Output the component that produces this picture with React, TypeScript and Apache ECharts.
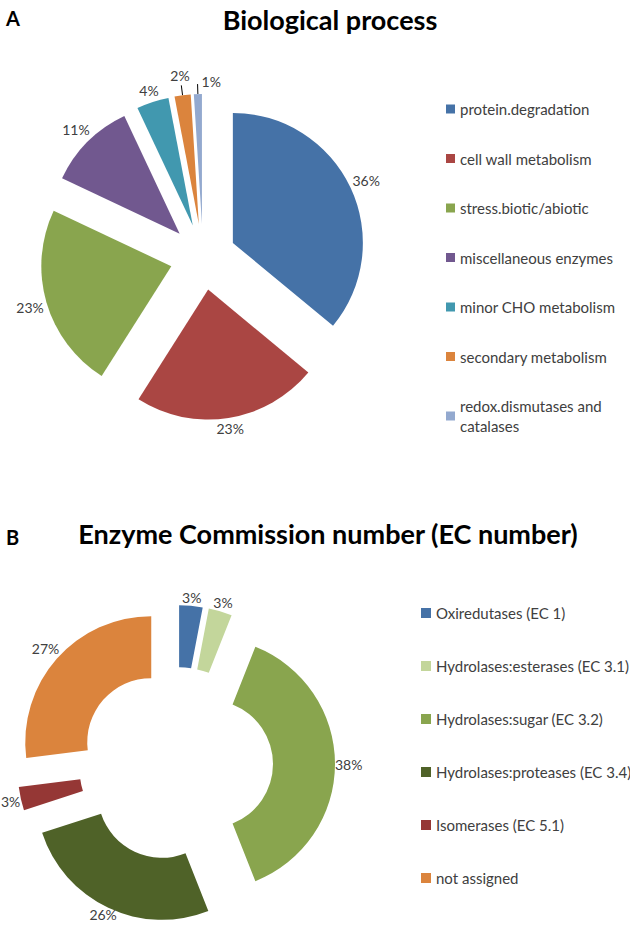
import React, { useEffect, useRef } from "react";
import * as echarts from "echarts";

// ---- Panel A: Biological process ----
const processCategories = [
  "protein.degradation",
  "cell wall metabolism",
  "stress.biotic/abiotic",
  "miscellaneous enzymes",
  "minor CHO metabolism",
  "secondary metabolism",
  "redox.dismutases and catalases",
];
const processValues = [36, 23, 23, 11, 4, 2, 1];
const processColors = ["#4572A7", "#AA4643", "#89A54E", "#71588F", "#4198AF", "#DB843D", "#93A9CF"];

// ---- Panel B: Enzyme Commission number ----
const ecCategories = [
  "Oxiredutases (EC 1)",
  "Hydrolases:esterases (EC 3.1)",
  "Hydrolases:sugar (EC 3.2)",
  "Hydrolases:proteases (EC 3.4)",
  "Isomerases (EC 5.1)",
  "not assigned",
];
const ecValues = [3, 3, 38, 26, 3, 27];
const ecColors = ["#4572A7", "#C3D69B", "#89A54E", "#4F6228", "#953735", "#DB843D"];

const FONT = "Lato, 'Open Sans', sans-serif";
const LABEL_COLOR = "#404040";
const LABEL_DIST = 2;
const SHORT_LEN = 4;
const LINE_LEN = 10;
const CHART_W = 630;
const CHART_H = 925;
const EDGE = 4;
const OFFSET_A = 33;
const OFFSET_B = 33;

// mid angle of each slice, clockwise from 12 o'clock, in radians
function midAngles(values: number[]) {
  const total = values.reduce((a, b) => a + b, 0);
  let acc = 0;
  return values.map((v) => {
    const m = ((acc + v / 2) / total) * Math.PI * 2;
    acc += v;
    return m;
  });
}

// moves the default outside label so that its centre sits outward along the slice bisector
function makeLabelLayout(values: number[], hasLine: (v: number) => boolean, gap: number, offset: number) {
  const mids = midAngles(values);
  return (params: any) => {
    const i = params.dataIndex;
    const a = mids[i];
    const ux = Math.sin(a);
    const uy = -Math.cos(a);
    const r = params.labelRect;
    const w = r.width;
    const h = r.height;
    const line = hasLine(values[i]);
    const len = line ? LINE_LEN : SHORT_LEN;
    const side = ux < 0 ? -1 : 1;
    let dx: number;
    let dy: number;
    if (line && i === values.length - 1) {
      // last thin slice: label to the right of its leader line
      dx = side < 0 ? w + 2 * LABEL_DIST + 2 : 2;
      dy = -3;
    } else {
      const target = (line ? len : 0) + gap + (w / 2) * Math.abs(ux) + (h / 2) * Math.abs(uy);
      const s = target - len;
      dx = ux * s - side * (w / 2 + LABEL_DIST);
      dy = uy * s;
    }
    // keep inside the chart (the label rect does not include the exploded offset)
    const nx = r.x + ux * offset + dx;
    const ny = r.y + uy * offset + dy;
    if (nx < 1) dx += 1 - nx;
    if (nx + w > CHART_W - EDGE) dx -= nx + w - (CHART_W - EDGE);
    if (ny + h > CHART_H - EDGE) dy -= ny + h - (CHART_H - EDGE);
    return { dx, dy, hideOverlap: false };
  };
}

export default function App() {
  const ref = useRef<HTMLDivElement>(null);

  useEffect(() => {
    document.body.style.margin = "0";
    if (!ref.current) return;
    const chart = echarts.init(ref.current, undefined, { renderer: "svg" });

    const pieLabel = {
      show: true,
      position: "outside",
      formatter: "{c}%",
      fontSize: 14,
      lineHeight: 14,
      fontFamily: FONT,
      color: LABEL_COLOR,
      distanceToLabelLine: LABEL_DIST,
    };
    const smallA = (v: number) => v < 3;
    const noLine = (_v: number) => false;

    const option = {
      animation: false,
      backgroundColor: "#ffffff",
      textStyle: { fontFamily: FONT },
      title: [
        { text: "A", left: 6, top: 8, padding: 0, textStyle: { fontSize: 20, fontWeight: "bold", color: "#000", fontFamily: FONT } },
        {
          text: "Biological process",
          left: 330,
          textAlign: "center",
          top: 6,
          padding: 0,
          textStyle: { fontSize: 27, fontWeight: "bold", color: "#000", fontFamily: FONT },
        },
        { text: "B", left: 6, top: 527, padding: 0, textStyle: { fontSize: 20, fontWeight: "bold", color: "#000", fontFamily: FONT } },
        {
          text: "Enzyme Commission number (EC number)",
          left: 328,
          textAlign: "center",
          top: 520,
          padding: 0,
          textStyle: { fontSize: 27, fontWeight: "bold", color: "#000", fontFamily: FONT },
        },
      ],
      legend: [
        {
          data: processCategories,
          orient: "vertical",
          left: 446,
          top: 99,
          padding: 0,
          itemWidth: 9,
          itemHeight: 9,
          itemGap: 29.5,
          icon: "rect",
          selectedMode: false,
          textStyle: { fontSize: 15, color: LABEL_COLOR, lineHeight: 20, width: 170, overflow: "break", fontFamily: FONT },
        },
        {
          data: ecCategories,
          orient: "vertical",
          left: 421,
          top: 603,
          padding: 0,
          itemWidth: 10,
          itemHeight: 10,
          itemGap: 33,
          icon: "rect",
          selectedMode: false,
          textStyle: { fontSize: 15, color: LABEL_COLOR, lineHeight: 20, fontFamily: FONT },
        },
      ],
      series: [
        {
          name: "Biological process",
          type: "pie",
          center: [203, 257],
          radius: [0, 130],
          startAngle: 90,
          clockwise: true,
          avoidLabelOverlap: false,
          selectedMode: "multiple",
          selectedOffset: OFFSET_A,
          emphasis: { disabled: true },
          select: { itemStyle: { borderWidth: 0 } },
          label: pieLabel,
          labelLine: { show: false, length: SHORT_LEN, length2: 0, lineStyle: { color: "#000", width: 1 } },
          labelLayout: makeLabelLayout(processValues, smallA, 2, OFFSET_A),
          data: processCategories.map((name, i) => ({
            name,
            value: processValues[i],
            selected: true,
            itemStyle: { color: processColors[i] },
            ...(smallA(processValues[i]) ? { labelLine: { show: true, length: LINE_LEN, length2: 0 } } : {}),
          })),
        },
        {
          name: "EC number",
          type: "pie",
          center: [176, 764],
          radius: [64, 126],
          startAngle: 90,
          clockwise: true,
          avoidLabelOverlap: false,
          selectedMode: "multiple",
          selectedOffset: OFFSET_B,
          emphasis: { disabled: true },
          select: { itemStyle: { borderWidth: 0 } },
          label: pieLabel,
          labelLine: { show: false, length: SHORT_LEN, length2: 0 },
          labelLayout: makeLabelLayout(ecValues, noLine, 0, OFFSET_B),
          data: ecCategories.map((name, i) => ({
            name,
            value: ecValues[i],
            selected: true,
            itemStyle: { color: ecColors[i] },
          })),
        },
      ],
    };

    chart.setOption(option as any);
    return () => chart.dispose();
  }, []);

  return <div ref={ref} style={{ width: CHART_W, height: CHART_H }} />;
}
